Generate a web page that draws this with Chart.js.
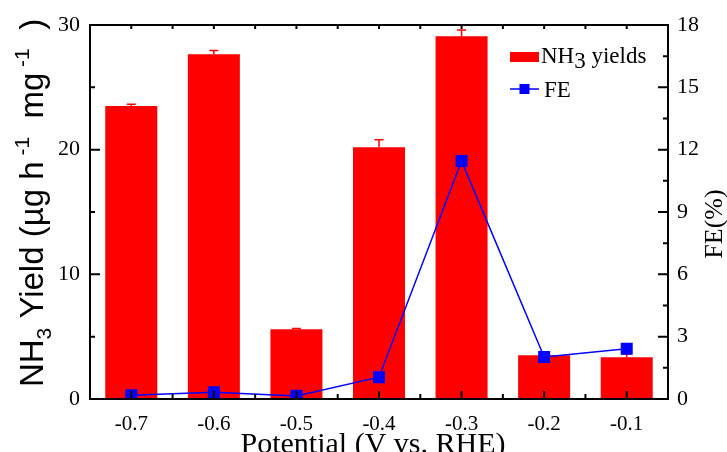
<!DOCTYPE html>
<html>
<head>
<meta charset="utf-8">
<script src="https://cdn.jsdelivr.net/npm/chart.js@4.4.0/dist/chart.umd.min.js"></script>
<style>
    body { margin: 0; background: #fff; }
    #wrap { width: 727px; height: 452px; }
</style>
</head>
<body>
<div id="wrap"><canvas id="chart" width="727" height="452"></canvas></div>
<script>
// ========== DATA ==========
const potentials = ["-0.7", "-0.6", "-0.5", "-0.4", "-0.3", "-0.2", "-0.1"];
const nh3Yields = [23.5, 27.65, 5.6, 20.2, 29.1, 3.5, 3.35];
const nh3Errors = [0.15, 0.3, 0.05, 0.6, 0.5, 0.1, 0.25];
const feValues = [0.18, 0.33, 0.15, 1.05, 11.45, 2.02, 2.42];
const yieldTicks = [0, 10, 20, 30];
const feTicks = [0, 3, 6, 9, 12, 15, 18];

const SERIF = "'Liberation Serif', 'Times New Roman', serif";
const SANS = "'Liberation Sans', Arial, sans-serif";
const RED = "#ff0000";
const BLUE = "#0000ff";

// draw a run of text pieces (for sub/superscripts), centered on x
function drawRich(ctx, parts, x, y, family) {
    let total = 0;
    parts.forEach(p => {
        ctx.font = p.size + "px " + family;
        total += ctx.measureText(p.t).width;
    });
    let cx = x - total / 2;
    ctx.textAlign = "left";
    ctx.textBaseline = "alphabetic";
    parts.forEach(p => {
        ctx.font = p.size + "px " + family;
        ctx.fillText(p.t, cx, y + (p.dy || 0));
        cx += ctx.measureText(p.t).width;
    });
}

// ========== ERROR BARS ==========
const errorBars = {
    id: "errorBars",
    afterDatasetDraw(chart, args) {
        if (args.index !== 1) return;
        const { ctx } = chart;
        const yScale = chart.scales.y;
        ctx.save();
        ctx.strokeStyle = RED;
        ctx.lineWidth = 1.5;
        args.meta.data.forEach((bar, i) => {
            const top = yScale.getPixelForValue(nh3Yields[i] + nh3Errors[i]);
            ctx.beginPath();
            ctx.moveTo(bar.x, bar.y);
            ctx.lineTo(bar.x, top);
            ctx.moveTo(bar.x - 4.5, top);
            ctx.lineTo(bar.x + 4.5, top);
            ctx.stroke();
        });
        ctx.restore();
    }
};

// ========== FRAME, INWARD TICKS, TITLES, LEGEND ==========
const decorations = {
    id: "decorations",
    afterDraw(chart) {
        const { ctx, chartArea: a, scales } = chart;
        const x = scales.x, y = scales.y, y1 = scales.y1;
        ctx.save();
        ctx.strokeStyle = "#000";
        ctx.lineWidth = 2;
        ctx.strokeRect(a.left, a.top, a.right - a.left, a.bottom - a.top);

        ctx.beginPath();
        // left axis
        yieldTicks.forEach((v, i) => {
            const p = y.getPixelForValue(v);
            ctx.moveTo(a.left, p); ctx.lineTo(a.left + 10, p);
            if (i < yieldTicks.length - 1) {
                const m = y.getPixelForValue((v + yieldTicks[i + 1]) / 2);
                ctx.moveTo(a.left, m); ctx.lineTo(a.left + 5, m);
            }
        });
        // right axis
        feTicks.forEach((v, i) => {
            const p = y1.getPixelForValue(v);
            ctx.moveTo(a.right, p); ctx.lineTo(a.right - 10, p);
            if (i < feTicks.length - 1) {
                const m = y1.getPixelForValue((v + feTicks[i + 1]) / 2);
                ctx.moveTo(a.right, m); ctx.lineTo(a.right - 5, m);
            }
        });
        // bottom and top axes
        potentials.forEach((c, i) => {
            const p = x.getPixelForValue(i);
            ctx.moveTo(p, a.bottom); ctx.lineTo(p, a.bottom - 8);
            ctx.moveTo(p, a.top); ctx.lineTo(p, a.top + 4);
            if (i < potentials.length - 1) {
                const m = (p + x.getPixelForValue(i + 1)) / 2;
                ctx.moveTo(m, a.bottom); ctx.lineTo(m, a.bottom - 5);
                ctx.moveTo(m, a.top); ctx.lineTo(m, a.top + 4);
            }
        });
        ctx.stroke();

        ctx.fillStyle = "#000";
        // x title
        drawRich(ctx, [{ t: "Potential (V vs. RHE)", size: 30 }], (a.left + a.right) / 2 - 6, 453, SERIF);

        // left title
        ctx.save();
        ctx.translate(43, 203);
        ctx.rotate(-Math.PI / 2);
        drawRich(ctx, [
            { t: "NH", size: 33 },
            { t: "3", size: 21, dy: 8 },
            { t: " Yield (\u00b5g h", size: 33 },
            { t: " -1", size: 21, dy: -14 },
            { t: "  mg", size: 33 },
            { t: " -1", size: 21, dy: -14 },
            { t: "  )", size: 33 }
        ], 0, 0, SANS);
        ctx.restore();

        // right title
        ctx.save();
        ctx.translate(722, 224);
        ctx.rotate(-Math.PI / 2);
        drawRich(ctx, [{ t: "FE(%)", size: 26 }], 0, 0, SERIF);
        ctx.restore();

        // legend
        ctx.fillStyle = RED;
        ctx.fillRect(510, 52, 29, 10);
        ctx.fillStyle = "#000";
        ctx.textAlign = "left";
        ctx.font = "23px " + SERIF;
        ctx.fillText("NH", 541, 63);
        let lx = 541 + ctx.measureText("NH").width;
        ctx.fillText("3", lx, 68);
        lx += ctx.measureText("3").width;
        ctx.fillText(" yields", lx, 63);

        ctx.strokeStyle = BLUE;
        ctx.lineWidth = 1.5;
        ctx.beginPath();
        ctx.moveTo(510, 89); ctx.lineTo(539, 89);
        ctx.stroke();
        ctx.fillStyle = BLUE;
        ctx.fillRect(519.5, 84, 10, 10);
        ctx.fillStyle = "#000";
        ctx.fillText("FE", 544, 97);
        ctx.restore();
    }
};

// ========== CHART ==========
const ctx = document.getElementById("chart").getContext("2d");
new Chart(ctx, {
    data: {
        labels: potentials,
        datasets: [
            {
                type: "line",
                label: "FE",
                data: feValues,
                yAxisID: "y1",
                borderColor: BLUE,
                borderWidth: 1.5,
                tension: 0,
                pointStyle: "rect",
                pointRadius: 8.5,
                pointBackgroundColor: BLUE,
                pointBorderColor: BLUE,
                pointBorderWidth: 0,
                order: 0
            },
            {
                type: "bar",
                label: "NH3 yields",
                data: nh3Yields,
                yAxisID: "y",
                backgroundColor: RED,
                borderWidth: 0,
                barPercentage: 0.63,
                categoryPercentage: 1,
                order: 1
            }
        ]
    },
    options: {
        responsive: false,
        animation: false,
        layout: { padding: { top: 25, left: 0, right: 0, bottom: 0 } },
        plugins: {
            legend: { display: false },
            tooltip: { enabled: false }
        },
        scales: {
            x: {
                type: "category",
                offset: true,
                grid: { display: false },
                border: { display: false },
                ticks: {
                    color: "#000",
                    font: { family: SERIF, size: 21 },
                    padding: 5,
                    maxRotation: 0,
                    autoSkip: false
                },
                afterFit: function (scale) { scale.height = 53; }
            },
            y: {
                position: "left",
                min: yieldTicks[0],
                max: yieldTicks[yieldTicks.length - 1],
                grid: { display: false },
                border: { display: false },
                ticks: {
                    stepSize: yieldTicks[1] - yieldTicks[0],
                    color: "#000",
                    font: { family: SERIF, size: 22 },
                    padding: 2
                },
                afterFit: function (scale) { scale.width = 90; }
            },
            y1: {
                position: "right",
                min: feTicks[0],
                max: feTicks[feTicks.length - 1],
                grid: { display: false },
                border: { display: false },
                ticks: {
                    stepSize: feTicks[1] - feTicks[0],
                    color: "#000",
                    font: { family: SERIF, size: 22 },
                    padding: 1
                },
                afterFit: function (scale) { scale.width = 59; }
            }
        }
    },
    plugins: [errorBars, decorations]
});
</script>
</body>
</html>
